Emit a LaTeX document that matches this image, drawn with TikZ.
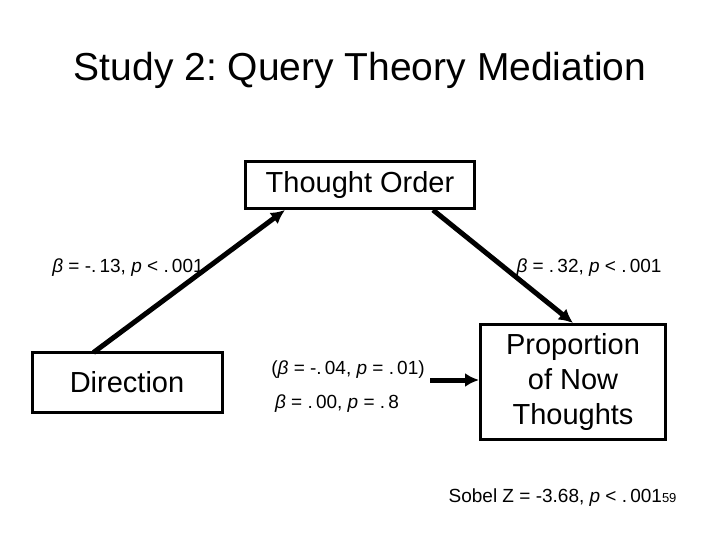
\documentclass[tikz,border=0pt]{standalone}
\usepackage{fontspec}
\setmainfont{Liberation Sans}
\frenchspacing
\usetikzlibrary{calc}
\tikzset{
  box/.style={draw, line width=3pt, inner sep=0pt, align=center},
  path/.style={line width=5pt, -{Latex[length=14pt,width=14pt]}},
  coef/.style={font=\fontsize{19}{23}\selectfont}
}
\usetikzlibrary{arrows.meta}
\begin{document}
\begin{tikzpicture}[x=1pt,y=-1pt]
  \useasboundingbox (0,0) rectangle (720,540);
  \node[font=\fontsize{39}{46}\selectfont] (title) at (360,70) {Study 2: Query Theory Mediation};
  \node[box, minimum width=229pt, minimum height=47pt, font=\fontsize{29}{34}\selectfont] (order) at (360,185) {Thought Order};
  \node[box, minimum width=190pt, minimum height=60pt, font=\fontsize{29}{34}\selectfont] (dir) at (127,382) {Direction};
  \node[box, minimum width=185pt, minimum height=115pt, font=\fontsize{29}{35}\selectfont] (prop) at (573,382) {Proportion\\of Now\\Thoughts};
  \coordinate (a1) at ($(dir.north west)+(63,2)$);
  \coordinate (a2) at ($(order.south west)+(41,0)$);
  \coordinate (b1) at ($(order.south east)+(-43,0)$);
  \coordinate (b2) at ($(prop.north west)+(94,0)$);
  \coordinate (c1) at (430,380);
  \draw[path] (a1) -- (a2);
  \draw[path] (b1) -- (b2);
  \draw[path] (c1) -- (prop.west |- c1);
  \node[coef] (la) at (128,268) {\textit{β} = -.\,13, \textit{p} < .\,001};
  \node[coef] (lb) at (589,268) {\textit{β} = .\,32, \textit{p} < .\,001};
  \node[coef] (lc) at (348,370) {(\textit{β} = -.\,04, \textit{p} = .\,01)};
  \node[coef] (ld) at (337,404) {\textit{β} = .\,00, \textit{p} = .\,8};
  \node[coef, anchor=east] (sobel) at (680,498) {Sobel Z = -3.68, \textit{p} < .\,001{\fontsize{13}{15}\selectfont 59}};
\end{tikzpicture}
\end{document}
